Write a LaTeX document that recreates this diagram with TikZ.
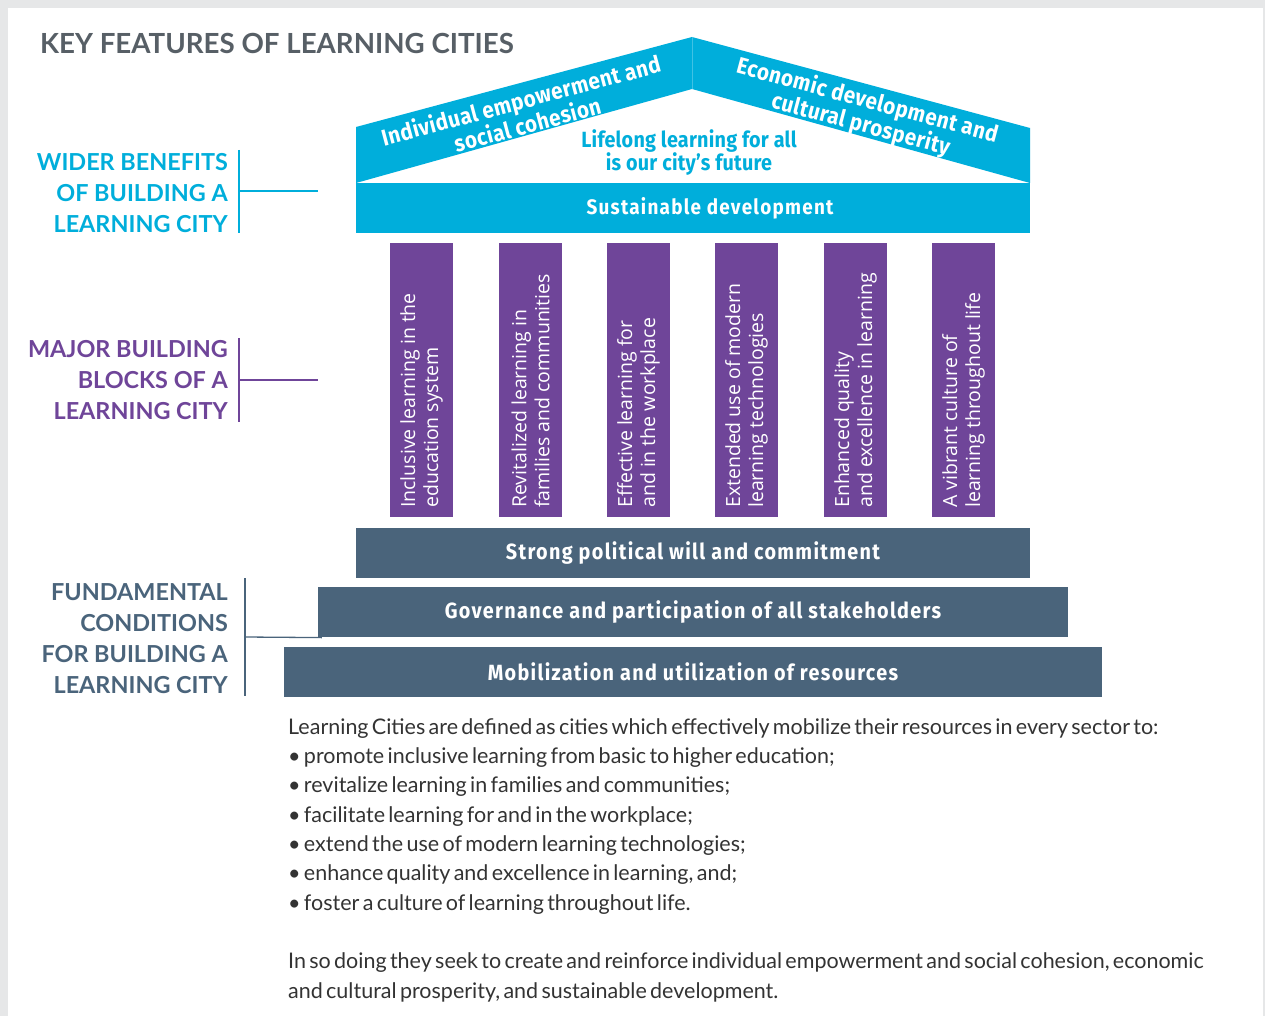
\documentclass[tikz,border=0pt]{standalone}
\usepackage{fontspec}
\setmainfont[WordSpace=0.6]{Lato}
\newfontfamily\titlefont{Lato}
\newfontfamily\condfont[FakeStretch=0.9, LetterSpace=6]{Fira Sans}
\newfontfamily\rooffont[FakeStretch=0.9, LetterSpace=2]{Fira Sans}
\newfontfamily\mottofont[FakeStretch=0.9, LetterSpace=1]{Fira Sans}
\newfontfamily\pillarfont{Open Sans}
\usetikzlibrary{positioning}
\definecolor{lccyan}{HTML}{00AEDB}
\definecolor{lcpurple}{HTML}{6F4599}
\definecolor{lcslate}{HTML}{4A647B}
\definecolor{lcgray}{HTML}{575F66}
\definecolor{lcbg}{HTML}{E6E7E8}
\definecolor{lctext}{HTML}{333333}

\tikzset{
  sidelabel/.style={align=right, anchor=east, inner sep=0pt,
    font=\titlefont\fontsize{23.4}{31}\selectfont\bfseries},
  bracket/.style={line width=1.3pt},
  pillar/.style={fill=lcpurple, minimum width=63pt, minimum height=274pt, inner sep=0pt},
  pillartext/.style={rotate=90, anchor=west, align=left, text=white, inner sep=0pt,
    font=\pillarfont\fontsize{19.5}{23}\selectfont},
  basebar/.style={fill=lcslate, text=white, minimum height=50pt, inner sep=0pt,
    font=\condfont\bfseries\fontsize{22}{26}\selectfont},
  rooftext/.style={text=white, align=center, inner sep=0pt,
    font=\rooffont\bfseries\fontsize{23}{23.5}\selectfont},
}

\begin{document}
\begin{tikzpicture}[x=1pt, y=-1pt]
  % page
  \fill[lcbg] (0,0) rectangle (1265,1016);
  \fill[white] (8,8) rectangle (1263,1016);

  \node[anchor=base west, inner sep=0pt, text=lcgray,
    font=\titlefont\fontsize{27.7}{32}\selectfont\bfseries] (title) at (40,54) {KEY FEATURES OF LEARNING CITIES};

  % roof
  \fill[lccyan] (356,183) -- (356,127) -- (692,37) -- (1030,128) -- (1030,183) -- (692,89) -- cycle;
  \draw[white, opacity=0.25, line width=0.6pt] (692,37) -- (692,89);
  \node[rooftext, rotate=15] (roofleft) at (524,112) {Individual empowerment and\\social cohesion};
  \node[rooftext, rotate=-15] (roofright) at (864,113) {Economic development and\\cultural prosperity};
  \node[text=lccyan, align=center, inner sep=0pt,
    font=\mottofont\bfseries\fontsize{22}{23}\selectfont] (motto) at (689,153) {Lifelong learning for all\\is our city’s future};
  \node[basebar, fill=lccyan, minimum width=674pt,
    font=\condfont\bfseries\fontsize{21}{26}\selectfont] (sust) at (693,208) {\hspace*{34pt}Sustainable development};

  % pillars
  \foreach \px/\name/\txt in {421.5/p1/{Inclusive learning in the\\education system},
      530.5/p2/{Revitalized learning in\\families and communities},
      638.5/p3/{Effective learning for\\and in the workplace},
      746.5/p4/{Extended use of modern\\learning technologies},
      855.5/p5/{Enhanced quality\\and excellence in learning},
      963.5/p6/{A vibrant culture of\\learning throughout life}} {
    \node[pillar] (\name) at (\px,380) {};
    \node[pillartext] at (\px,508) {\txt};
  }

  % foundations
  \node[basebar, minimum width=674pt] (strong) at (693,553) {Strong political will and commitment};
  \node[basebar, minimum width=750pt, below=9pt of strong] (gov) {Governance and participation of all stakeholders};
  \node[basebar, minimum width=818pt, below=9pt of gov] (mob) {Mobilization and utilization of resources};

  % side labels
  \node[sidelabel, text=lccyan] (wider) at (228,193) {WIDER BENEFITS\\OF BUILDING A\\LEARNING CITY};
  \node[sidelabel, text=lcpurple] (major) at (228,380) {MAJOR BUILDING\\BLOCKS OF A\\LEARNING CITY};
  \node[sidelabel, text=lcslate] (fund) at (228,639) {FUNDAMENTAL\\CONDITIONS\\FOR BUILDING A\\LEARNING CITY};
  \coordinate (widerend) at (318,191);
  \coordinate (majorend) at (318,380);
  \draw[bracket, lccyan] (239,150) -- (239,233);
  \draw[bracket, lccyan] (239,191) -- (widerend);
  \draw[bracket, lcpurple] (239,338) -- (239,422);
  \draw[bracket, lcpurple] (239,380) -- (majorend);
  \draw[bracket, lcslate] (245,578) -- (245,696);
  \draw[bracket, lcslate] (245,637) -- ([xshift=4pt]gov.south west);

  % description
  \node[anchor=north west, align=left, inner sep=0pt, text=lctext,
    font=\fontsize{21.5}{29.35}\selectfont] (desc) at (288,718) {%
    Learning Cities are defined as cities which effectively mobilize their resources in every sector to:\\
    • promote inclusive learning from basic to higher education;\\
    • revitalize learning in families and communities;\\
    • facilitate learning for and in the workplace;\\
    • extend the use of modern learning technologies;\\
    • enhance quality and excellence in learning, and;\\
    • foster a culture of learning throughout life.\\[29.35pt]
    In so doing they seek to create and reinforce individual empowerment and social cohesion, economic\\
    and cultural prosperity, and sustainable development.};
\end{tikzpicture}
\end{document}
